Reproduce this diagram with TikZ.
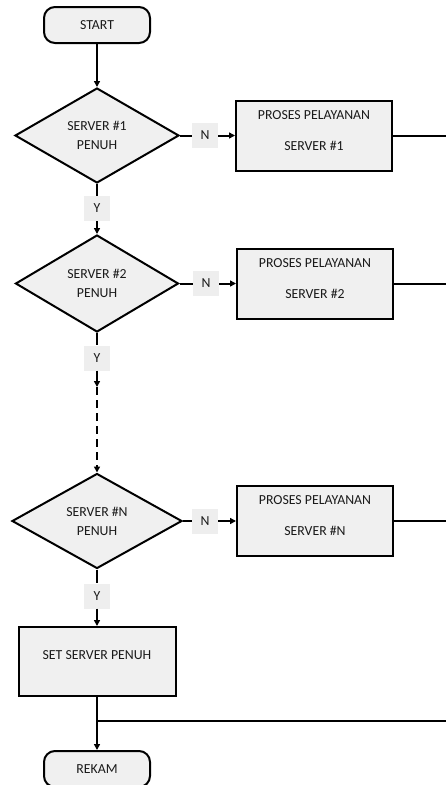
\documentclass[tikz,border=0pt]{standalone}
\usepackage{fontspec}
\setmainfont{Carlito}
\usetikzlibrary{shapes.geometric,arrows.meta}
\definecolor{boxgray}{HTML}{F0F0F0}
\definecolor{taggray}{HTML}{EEEEEE}
\definecolor{ink}{HTML}{1A1A1A}
\begin{document}
\begin{tikzpicture}[x=1pt,y=-1pt, font=\fontsize{13.8}{19}\selectfont, text=ink,
 base/.style={draw=black, line width=2pt, fill=boxgray, inner sep=0pt},
 term/.style={base, rounded corners=11pt, minimum width=106pt, minimum height=36pt},
 decision/.style={base, diamond, align=center},
 proc/.style={base, rectangle, minimum width=156pt, minimum height=70pt},
 tag/.style={fill=taggray, minimum width=26pt, minimum height=25pt, inner sep=0pt},
 conn/.style={line width=2pt},
 arr/.style={conn, -{Triangle[length=6pt,width=6pt]}},
 dashconn/.style={conn, dash pattern=on 8pt off 5pt},
 boxtext/.style={align=center, yshift=5pt},
]
\useasboundingbox (0,0) rectangle (446,785);

\node[term] (start) at (97,25) {START};

\node[decision, minimum width=164pt, minimum height=95pt] (d1) at (97,135.5) {SERVER \#1\\PENUH};
\node[tag] (n1) at (205,135.5) {N};
\node[proc, label={[boxtext]center:PROSES PELAYANAN\\[12pt]SERVER \#1}] (b1) at (314,135.5) {};
\coordinate (e1) at (446,135.5);
\node[tag] (y1) at (97,208.5) {Y};

\node[decision, minimum width=163pt, minimum height=97pt] (d2) at (97,283.5) {SERVER \#2\\PENUH};
\node[tag] (n2) at (206,283.5) {N};
\node[proc, label={[boxtext]center:PROSES PELAYANAN\\[12pt]SERVER \#2}] (b2) at (315,283.5) {};
\coordinate (e2) at (446,283.5);
\node[tag] (y2) at (97,358) {Y};
\coordinate (c2) at (97,387);

\node[decision, minimum width=170pt, minimum height=95pt] (dN) at (97,521) {SERVER \#N\\PENUH};
\node[tag] (nN) at (205,521) {N};
\node[proc, label={[boxtext]center:PROSES PELAYANAN\\[12pt]SERVER \#N}] (bN) at (315,521) {};
\coordinate (eN) at (446,521);
\node[tag] (yN) at (97,596) {Y};

\node[proc, minimum width=157pt, minimum height=69pt, label={[align=center, yshift=6.5pt]center:SET SERVER PENUH}] (set) at (97,661.5) {};
\coordinate (j) at (97,721);
\coordinate (ej) at (446,721);
\node[term] (rekam) at (97,769) {REKAM};

\draw[arr] (start) -- (d1);
\draw[conn] (d1.east) -- (n1.west);
\draw[arr] (n1.east) -- (b1.west);
\draw[conn] (b1.east) -- (e1);
\draw[conn] (d1.south) -- (y1.north);
\draw[arr] (y1.south) -- (d2.north);

\draw[conn] (d2.east) -- (n2.west);
\draw[arr] (n2.east) -- (b2.west);
\draw[conn] (b2.east) -- (e2);
\draw[conn] (d2.south) -- (y2.north);
\draw[arr] (y2.south) -- (c2);
\draw[dashconn, -{Triangle[length=6pt,width=6pt]}] (c2) -- (dN.north);

\draw[conn] (dN.east) -- (nN.west);
\draw[arr] (nN.east) -- (bN.west);
\draw[conn] (bN.east) -- (eN);
\draw[conn] (dN.south) -- (yN.north);
\draw[arr] (yN.south) -- (set.north);

\draw[arr] (set.south) -- (rekam.north);
\draw[conn] (j) -- (ej);
\end{tikzpicture}
\end{document}
